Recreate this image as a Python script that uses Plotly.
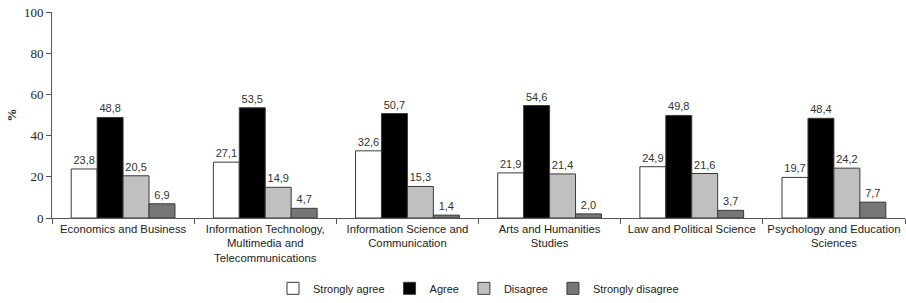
import plotly.graph_objects as go

categories = ["Economics and Business",
              "Information Technology,<br>Multimedia and<br>Telecommunications",
              "Information Science and<br>Communication",
              "Arts and Humanities<br>Studies",
              "Law and Political Science",
              "Psychology and Education<br>Sciences"]
strongly_agree = [23.8, 27.1, 32.6, 21.9, 24.9, 19.7]
agree = [48.8, 53.5, 50.7, 54.6, 49.8, 48.4]
disagree = [20.5, 14.9, 15.3, 21.4, 21.6, 24.2]
strongly_disagree = [6.9, 4.7, 1.4, 2.0, 3.7, 7.7]

series = [("Strongly agree", strongly_agree, "#FFFFFF"),
          ("Agree", agree, "#000000"),
          ("Disagree", disagree, "#C0C0C0"),
          ("Strongly disagree", strongly_disagree, "#767676")]

fig = go.Figure()
for name, vals, col in series:
    fig.add_trace(go.Bar(
        name=name, x=categories, y=vals,
        marker=dict(color=col, line=dict(color="#3a3a3a", width=1)),
        text=[f"{v:.1f}".replace(".", ",") for v in vals],
        textposition="outside", cliponaxis=False,
        textfont=dict(family="Liberation Sans, Arial", size=11, color="#333333"),
    ))

fig.update_layout(
    width=906, height=303,
    margin=dict(l=52, r=1, t=12, b=84),
    paper_bgcolor="white", plot_bgcolor="white",
    barmode="group", bargap=0.27, bargroupgap=0,
    font=dict(family="Liberation Sans, Arial", size=11, color="#222222"),
    showlegend=True,
    legend=dict(orientation="h", x=0.5, xanchor="center", y=-0.405, yanchor="bottom",
                font=dict(size=11, color="#222222"), traceorder="normal",
                itemwidth=30, tracegroupgap=0),
    xaxis=dict(showline=True, linecolor="#555555", linewidth=1, automargin=False,
               tickangle=0,
               ticks="outside", ticklen=5, tickcolor="#555555", tickson="boundaries",
               tickfont=dict(family="Liberation Sans, Arial", size=11.3, color="#222222"),
               showgrid=False, zeroline=False),
    yaxis=dict(range=[0, 100], tickvals=[0, 20, 40, 60, 80, 100], automargin=False,
               ticklabeloverflow="allow",
               showline=True, linecolor="#555555", linewidth=1,
               ticks="outside", ticklen=5, tickcolor="#555555",
               tickfont=dict(family="Liberation Serif, Times New Roman, serif", size=13, color="#222222"),
               showgrid=False, zeroline=False,
               title=dict(text="<b>%</b>", font=dict(family="Liberation Serif, serif", size=13), standoff=4)),
)

fig.write_html("out.html", config={"displayModeBar": False},
               post_script="document.body.style.margin='0';")
